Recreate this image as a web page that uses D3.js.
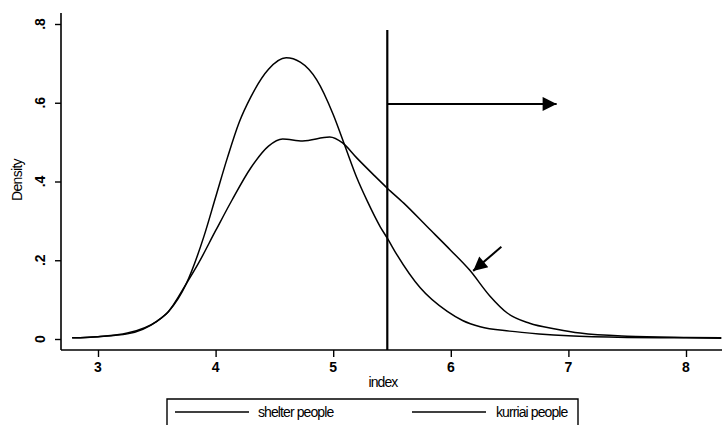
<!DOCTYPE html>
<html lang="en">
<head>
    <meta charset="UTF-8">
    <script src="https://d3js.org/d3.v7.min.js"></script>
    <title>Density</title>
    <style>
        body { margin: 0; background: #fff; }
        .curve { fill: none; stroke: #000; stroke-width: 1.5px; stroke-linejoin: round; }
        text { font-family: "Liberation Sans", Arial, sans-serif; fill: #000; }
    </style>
</head>
<body>
<div id="chart"></div>
<script>
    // data
    var shelterX = [2.78, 3.0, 3.25, 3.5, 3.6, 3.75, 3.9, 4.0, 4.1, 4.2, 4.3, 4.45, 4.6, 4.72, 4.86, 5.0, 5.1, 5.2, 5.29, 5.4, 5.46, 5.54, 5.74, 5.97, 6.1, 6.25, 6.5, 6.75, 7.0, 7.5, 8.0, 8.3];
    var shelterY = [0.003, 0.006, 0.015, 0.045, 0.07, 0.14, 0.26, 0.36, 0.46, 0.55, 0.615, 0.685, 0.714, 0.703, 0.658, 0.57, 0.49, 0.41, 0.35, 0.285, 0.256, 0.215, 0.13, 0.07, 0.047, 0.031, 0.02, 0.013, 0.008, 0.004, 0.003, 0.002];

    var kurriaiX = [2.78, 3.0, 3.25, 3.5, 3.6, 3.75, 3.85, 4.0, 4.14, 4.3, 4.45, 4.57, 4.74, 4.97, 5.08, 5.2, 5.35, 5.46, 5.6, 5.8, 6.0, 6.16, 6.33, 6.48, 6.67, 6.9, 7.1, 7.5, 8.0, 8.3];
    var kurriaiY = [0.003, 0.006, 0.013, 0.045, 0.07, 0.14, 0.19, 0.275, 0.353, 0.435, 0.49, 0.508, 0.503, 0.513, 0.498, 0.46, 0.415, 0.383, 0.345, 0.285, 0.225, 0.175, 0.11, 0.066, 0.04, 0.025, 0.015, 0.007, 0.004, 0.003];

    var xTicks = [3, 4, 5, 6, 7, 8];
    var yTicks = [0, 0.2, 0.4, 0.6, 0.8];
    var yTickLabels = ["0", ".2", ".4", ".6", ".8"];
    var legendLabels = ["shelter people", "kurriai people"];

    // annotations (data units)
    var cutoff = 5.46, cutoffTop = 0.785;
    var hArrow = {x1: 5.46, x2: 6.9, y: 0.597};
    var sArrow = {x1: 6.43, y1: 0.234, x2: 6.19, y2: 0.173};

    var width = 724, height = 425;
    var svg = d3.select("#chart").append("svg")
        .attr("width", width).attr("height", height);

    var defs = svg.append("defs");
    defs.append("marker").attr("id", "head")
        .attr("viewBox", "0 0 10 10").attr("refX", 10).attr("refY", 5)
        .attr("markerUnits", "userSpaceOnUse")
        .attr("markerWidth", 17).attr("markerHeight", 14)
        .attr("orient", "auto")
        .append("path").attr("d", "M0,0 L10,5 L0,10 Z").attr("fill", "#000");

    var x = d3.scaleLinear().domain([3, 8]).range([98, 686]);
    var y = d3.scaleLinear().domain([0, 0.8]).range([339, 24]);

    var plotLeft = 61, plotRight = 722, plotTop = 13, plotBottom = 350;

    // axes
    var yAxis = svg.append("g").attr("transform", "translate(" + plotLeft + ",0)")
        .call(d3.axisLeft(y).tickValues(yTicks).tickSize(6).tickFormat(""));
    yAxis.select(".domain").attr("d", "M0," + plotTop + "V" + plotBottom).attr("stroke-width", 1.6);
    yAxis.selectAll(".tick line").attr("stroke-width", 1.4);

    svg.selectAll(".ylab").data(yTicks).enter().append("text")
        .attr("class", "ylab")
        .attr("transform", function(d) { return "translate(45," + y(d) + ") rotate(-90)"; })
        .attr("text-anchor", "middle")
        .style("font-size", "14px").style("font-weight", "bold")
        .text(function(d, i) { return yTickLabels[i]; });

    var xAxis = svg.append("g").attr("transform", "translate(0," + plotBottom + ")")
        .call(d3.axisBottom(x).tickValues(xTicks).tickSize(7).tickFormat(""));
    xAxis.select(".domain").attr("d", "M" + plotLeft + ",0H" + plotRight).attr("stroke-width", 1.6);
    xAxis.selectAll(".tick line").attr("stroke-width", 1.4);

    svg.selectAll(".xlab").data(xTicks).enter().append("text")
        .attr("class", "xlab")
        .attr("x", function(d) { return x(d); }).attr("y", 372)
        .attr("text-anchor", "middle")
        .style("font-size", "14px").style("font-weight", "bold")
        .text(function(d) { return d; });

    svg.append("text").attr("x", 383).attr("y", 387)
        .attr("text-anchor", "middle").style("font-size", "14px").style("letter-spacing", "-0.9px")
        .text("index");

    svg.append("text").attr("transform", "translate(22,180) rotate(-90)")
        .attr("text-anchor", "middle").style("font-size", "14px").style("letter-spacing", "-0.7px")
        .text("Density");

    // curves
    var line = d3.line()
        .x(function(d) { return x(d[0]); })
        .y(function(d) { return y(d[1]); })
        .curve(d3.curveMonotoneX);

    svg.append("path").attr("class", "curve")
        .datum(d3.zip(shelterX, shelterY)).attr("d", line);
    svg.append("path").attr("class", "curve")
        .datum(d3.zip(kurriaiX, kurriaiY)).attr("d", line);

    // cut-off line and arrows
    svg.append("line")
        .attr("x1", x(cutoff)).attr("x2", x(cutoff))
        .attr("y1", y(cutoffTop)).attr("y2", plotBottom)
        .attr("stroke", "#000").attr("stroke-width", 2.2);

    svg.append("line")
        .attr("x1", x(hArrow.x1)).attr("x2", x(hArrow.x2))
        .attr("y1", y(hArrow.y)).attr("y2", y(hArrow.y))
        .attr("stroke", "#000").attr("stroke-width", 2)
        .attr("marker-end", "url(#head)");

    svg.append("line")
        .attr("x1", x(sArrow.x1)).attr("y1", y(sArrow.y1))
        .attr("x2", x(sArrow.x2)).attr("y2", y(sArrow.y2))
        .attr("stroke", "#000").attr("stroke-width", 2)
        .attr("marker-end", "url(#head)");

    // legend
    var lg = svg.append("g");
    lg.append("path")
        .attr("d", "M167,428V399H578V428")
        .attr("fill", "none").attr("stroke", "#000").attr("stroke-width", 1.4);
    var items = [{x1: 175, x2: 249, tx: 258}, {x1: 412, x2: 486, tx: 496}];
    items.forEach(function(it, i) {
        lg.append("line").attr("x1", it.x1).attr("x2", it.x2).attr("y1", 412).attr("y2", 412)
            .attr("stroke", "#000").attr("stroke-width", 1.6);
        lg.append("text").attr("x", it.tx).attr("y", 417)
            .style("font-size", "14px").style("letter-spacing", "-0.9px")
            .text(legendLabels[i]);
    });
</script>
</body>
</html>
